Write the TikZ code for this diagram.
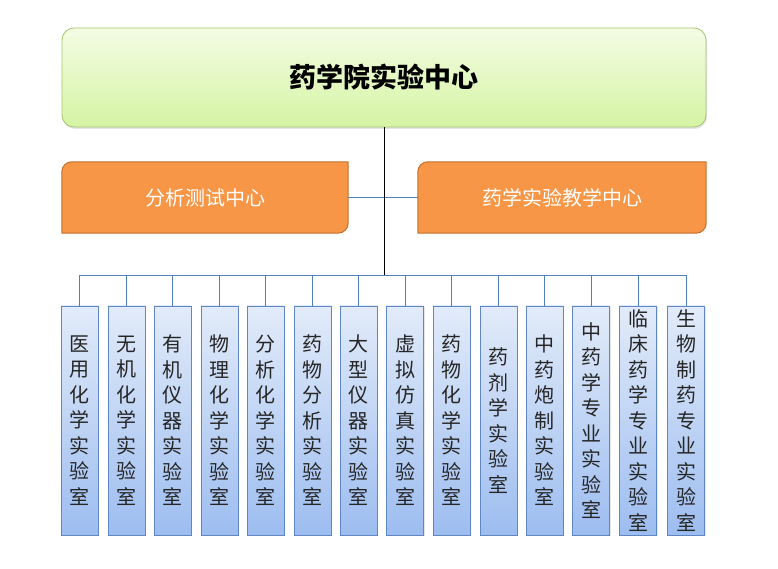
\documentclass[tikz,border=0pt]{standalone}
\usepackage{fontspec}
\setmainfont{Noto Sans CJK SC}
\usepackage{xcolor}
\usepackage{tikz}
\usetikzlibrary{backgrounds,shadows}
\definecolor{headtop}{HTML}{F3FCE4}
\definecolor{headbot}{HTML}{D5F4A3}
\definecolor{headline}{HTML}{A3C46C}
\definecolor{orfill}{HTML}{F79646}
\definecolor{orline}{HTML}{C0702D}
\definecolor{labtop}{HTML}{E2EBF9}
\definecolor{labbot}{HTML}{9DBDF0}
\definecolor{labline}{HTML}{5F87C4}
\definecolor{busblue}{HTML}{4F7FBF}
\tikzset{
  head/.style={draw=headline, line width=0.8pt, rounded corners=12pt,
    top color=headtop, bottom color=headbot,
    minimum width=644pt, minimum height=99pt, inner sep=0pt,
    font=\fontsize{27}{32}\selectfont\bfseries,
    drop shadow={shadow xshift=1pt, shadow yshift=-2pt, opacity=0.2}},
  centre/.style={minimum height=71pt, inner sep=0pt, text=white,
    font=\fontsize{20}{24}\selectfont},
  orbox/.style={draw=orline, fill=orfill, line width=1pt, line join=round},
  lab/.style={draw=labline, line width=0.8pt,
    top color=labtop, bottom color=labbot,
    minimum width=37pt, minimum height=229pt, inner sep=0pt,
    align=center, text=black!85,
    font=\fontsize{20}{25.5}\selectfont,
    drop shadow={shadow xshift=1pt, shadow yshift=-1.5pt, opacity=0.2}},
  link/.style={draw=black, line width=0.8pt},
  bus/.style={draw=busblue, line width=0.8pt}
}
\begin{document}
\begin{tikzpicture}[x=1pt,y=1pt]
  \useasboundingbox (0,0) rectangle (778,569);

  % top
  \node[head] (college) at (384,491.5) {药学院实验中心};

  % the two centres
  \node[centre, minimum width=286pt] (ana) at (205,371.5) {分析测试中心};
  \node[centre, minimum width=288pt] (edu) at (562,371.5) {药学实验教学中心};
  \begin{scope}[on background layer]
    \fill[white] (0,0) rectangle (778,569);
    \foreach \n in {ana,edu}
      \draw[orbox] (\n.south west) -- ([yshift=-10pt]\n.north west)
        arc[start angle=180, end angle=90, radius=10pt] -- (\n.north east)
        -- ([yshift=10pt]\n.south east)
        arc[start angle=0, end angle=-90, radius=10pt] -- cycle;
  \end{scope}
  \draw[bus] (ana.east) -- (edu.west);

  % laboratories
  \node[lab] (lab1)  at (79.5,148.5)  {医\\用\\化\\学\\实\\验\\室};
  \node[lab] (lab2)  at (126.5,148.5) {无\\机\\化\\学\\实\\验\\室};
  \node[lab] (lab3)  at (172.5,148.5) {有\\机\\仪\\器\\实\\验\\室};
  \node[lab] (lab4)  at (219.5,148.5) {物\\理\\化\\学\\实\\验\\室};
  \node[lab] (lab5)  at (265.5,148.5) {分\\析\\化\\学\\实\\验\\室};
  \node[lab] (lab6)  at (312.5,148.5) {药\\物\\分\\析\\实\\验\\室};
  \node[lab] (lab7)  at (358.5,148.5) {大\\型\\仪\\器\\实\\验\\室};
  \node[lab] (lab8)  at (405,148.5)   {虚\\拟\\仿\\真\\实\\验\\室};
  \node[lab] (lab9)  at (451.5,148.5) {药\\物\\化\\学\\实\\验\\室};
  \node[lab] (lab10) at (498.5,148.5) {药\\剂\\学\\实\\验\\室};
  \node[lab] (lab11) at (544.5,148.5) {中\\药\\炮\\制\\实\\验\\室};
  \node[lab] (lab12) at (591,148.5)   {中\\药\\学\\专\\业\\实\\验\\室};
  \node[lab] (lab13) at (638,148.5)   {临\\床\\药\\学\\专\\业\\实\\验\\室};
  \node[lab] (lab14) at (686,148.5)   {生\\物\\制\\药\\专\\业\\实\\验\\室};

  % connectors
  \coordinate (bus) at (384,294);
  \draw[link] (college.south) -- (bus);
  \draw[bus] (lab1.north |- bus) -- (lab14.north |- bus);
  \foreach \i in {1,...,14}
    \draw[bus] (lab\i.north |- bus) -- (lab\i.north);
\end{tikzpicture}
\end{document}
